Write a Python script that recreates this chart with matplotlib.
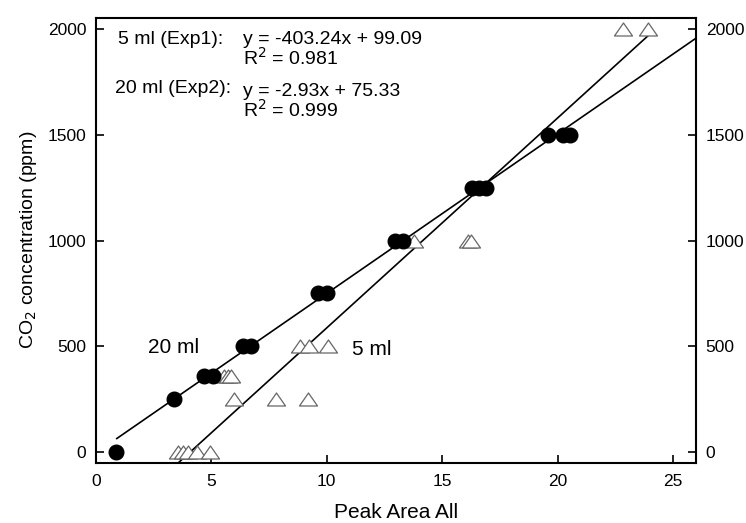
import numpy as np
import matplotlib
matplotlib.use("Agg")
import matplotlib.pyplot as plt
from matplotlib.path import Path

plt.rcParams['font.family'] = ['Liberation Sans', 'DejaVu Sans']

# 20 ml (Exp2) – filled circles
area_20ml = [0.85, 3.4, 4.7, 5.05, 6.35, 6.7, 9.6, 10.0, 12.95, 13.3,
             16.3, 16.6, 16.9, 19.6, 20.25, 20.55]
conc_20ml = [0, 250, 360, 360, 500, 500, 750, 750, 1000, 1000,
             1250, 1250, 1250, 1500, 1500, 1500]

# 5 ml (Exp1) – open triangles
area_5ml = [3.55, 3.77, 3.98, 4.38, 4.94,
            6.0, 7.8, 9.2,
            5.55, 5.7, 5.85,
            8.85, 9.25, 10.05,
            13.8, 16.1, 16.25,
            22.85, 23.9]
conc_5ml = [0, 0, 0, 0, 0,
            250, 250, 250,
            360, 360, 360,
            500, 500, 500,
            1000, 1000, 1000,
            2000, 2000]

# regression coefficients (slope, intercept) in ppm per peak-area unit
fit_5ml = (99.09, -403.24)
fit_20ml = (75.33, -2.93)
fit_5ml_range = (3.56, 23.9)
fit_20ml_range = (0.9, 26.0)

x_ticks = [0, 5, 10, 15, 20, 25]
y_ticks = [0, 500, 1000, 1500, 2000]

# slightly flattened open triangle
tri = Path([(-1, -0.72), (1, -0.72), (0, 0.72), (-1, -0.72)],
           [Path.MOVETO, Path.LINETO, Path.LINETO, Path.CLOSEPOLY])

fig = plt.figure(figsize=(7.46, 5.23), dpi=100)
ax = fig.add_axes([0.1287, 0.115, 0.8043, 0.851])

# fitted lines
for (m, b), (x0, x1) in [(fit_5ml, fit_5ml_range), (fit_20ml, fit_20ml_range)]:
    xs = np.array([x0, x1])
    ax.plot(xs, m * xs + b, color='black', lw=1.2, zorder=2)

ax.plot(area_5ml, conc_5ml, linestyle='none', marker=tri, markersize=13,
        markerfacecolor='white', markeredgecolor='#666666', markeredgewidth=0.9,
        zorder=3)
ax.plot(area_20ml, conc_20ml, linestyle='none', marker='o', markersize=10.5,
        color='black', zorder=4)

ax.set_xlim(0, 26)
ax.set_ylim(-50, 2052)
ax.set_xticks(x_ticks)
ax.set_yticks(y_ticks)
ax.tick_params(direction='in', length=6, width=1.2, labelsize=12.5,
               right=True, labelright=True, top=False)
ax.tick_params(axis='x', pad=8)
ax.tick_params(axis='y', pad=7)
for s in ax.spines.values():
    s.set_linewidth(1.5)

ax.set_xlabel('Peak Area All', fontsize=15, labelpad=10)
ax.set_ylabel('CO$_2$ concentration (ppm)', fontsize=14, labelpad=6)

tkw = dict(transform=ax.transData, fontsize=14, va='baseline', ha='left')
ax.text(0.95, 1929, '5 ml (Exp1):', **tkw)
ax.text(6.35, 1929, 'y = -403.24x + 99.09', **tkw)
ax.text(6.35, 1830, 'R$^2$ = 0.981', **tkw)
ax.text(0.82, 1697, '20 ml (Exp2):', **tkw)
ax.text(6.35, 1683, 'y = -2.93x + 75.33', **tkw)
ax.text(6.35, 1584, 'R$^2$ = 0.999', **tkw)

ax.text(2.25, 468, '20 ml', fontsize=15, va='baseline', ha='left')
ax.text(11.1, 459, '5 ml', fontsize=15, va='baseline', ha='left')

fig.savefig('out.png', dpi=100)
